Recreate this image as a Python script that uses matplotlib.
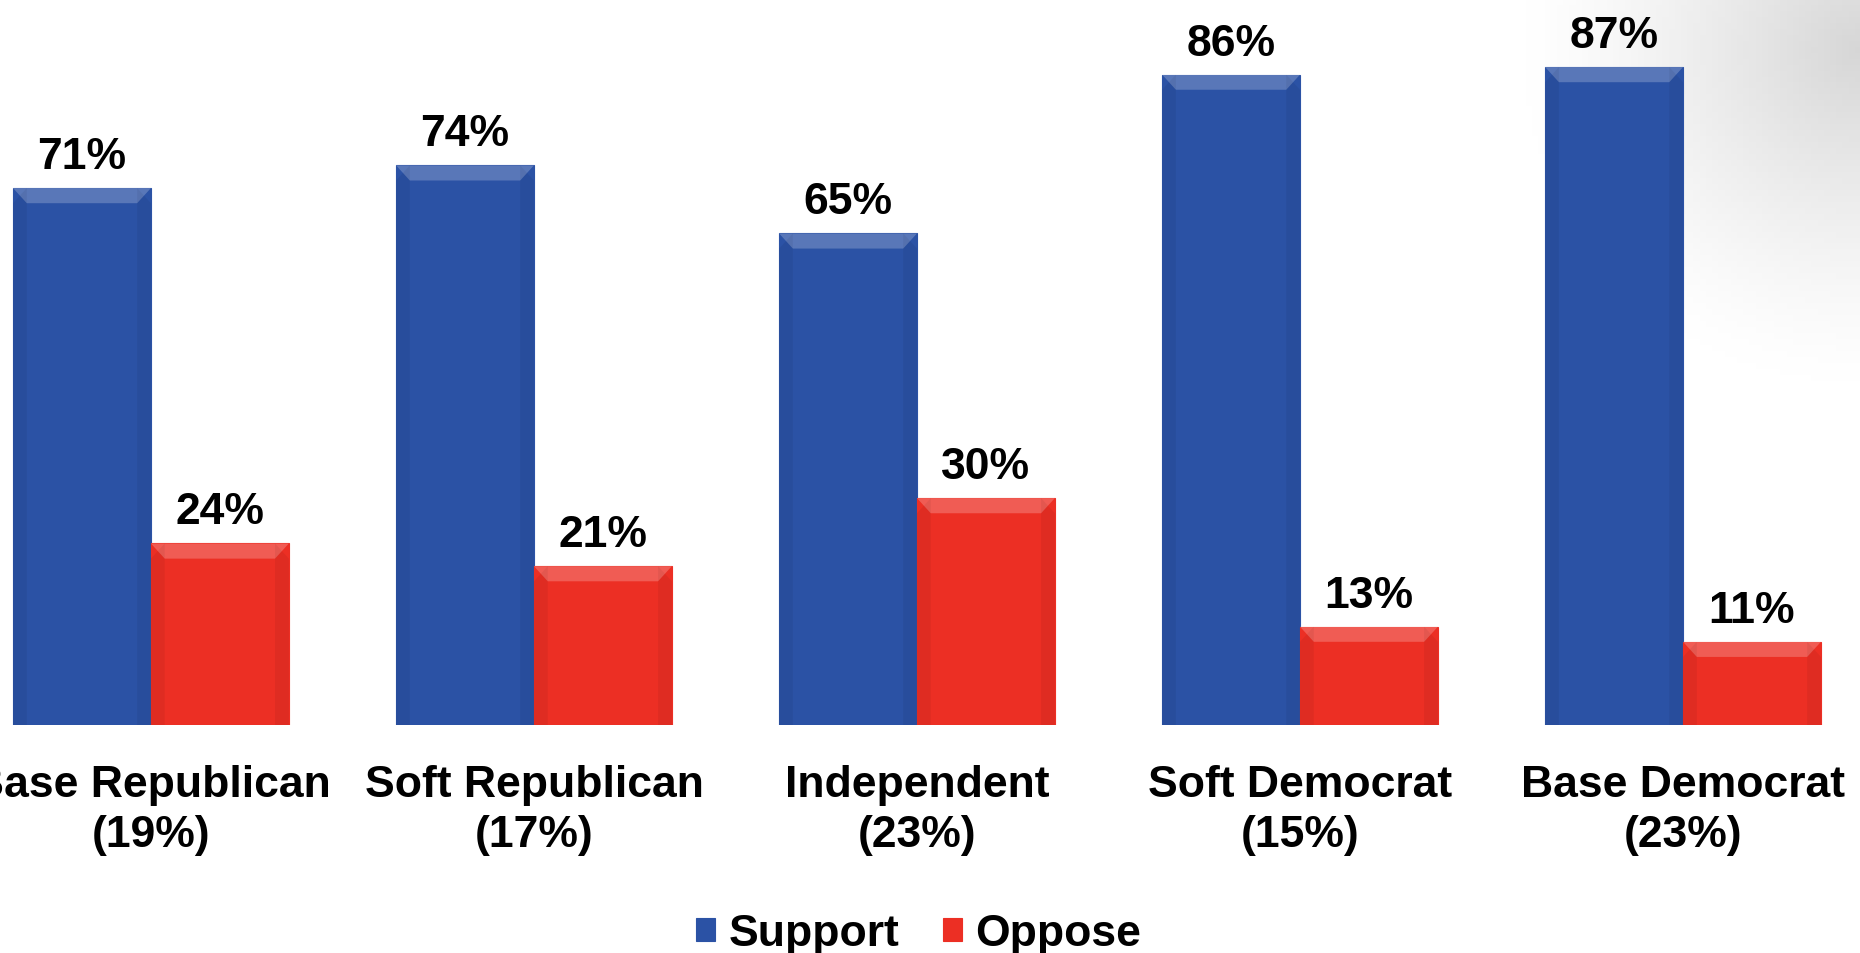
import numpy as np
import matplotlib
matplotlib.use('Agg')
import matplotlib.pyplot as plt
from matplotlib.patches import Polygon

# data
groups = ['Base Republican\n(19%)', 'Soft Republican\n(17%)', 'Independent\n(23%)',
          'Soft Democrat\n(15%)', 'Base Democrat\n(23%)']
support = [71, 74, 65, 86, 87]
oppose = [24, 21, 30, 13, 11]
series = ['Support', 'Oppose']
colors = ['#2b52a5', '#ec2f24']

plt.rcParams['font.family'] = ['Liberation Sans', 'DejaVu Sans']
plt.rcParams['font.weight'] = 'bold'

fig = plt.figure(figsize=(18.6, 9.54), dpi=100)

# soft grey shading in the top right corner
bg = fig.add_axes([0, 0, 1, 1], zorder=-10)
gx, gy = np.meshgrid(np.linspace(0, 1, 300), np.linspace(0, 1, 160))
d = np.sqrt(((gx - 1.0) / 0.18) ** 2 + ((gy - 0.95) / 0.35) ** 2)
shade = np.clip(1 - d, 0, 1) ** 1.3 * 0.16
img = np.ones((160, 300, 3)) * (1 - shade[..., None])
bg.imshow(img, origin='lower', extent=[0, 1, 0, 1], aspect='auto')
bg.axis('off')

ax = fig.add_axes([0, 0.239, 1, 0.761])
ax.patch.set_alpha(0)
x = np.arange(len(groups))
w = 0.36

bars = []
for k, (vals, c, name) in enumerate(zip([support, oppose], colors, series)):
    b = ax.bar(x + (k - 0.5) * w, vals, w, color=c, label=name,
               edgecolor=c, linewidth=0.8)
    bars.append(b)
    for rect, v in zip(b, vals):
        ax.annotate(f'{v}%', (rect.get_x() + rect.get_width() / 2, v),
                    xytext=(0, 8), textcoords='offset points',
                    ha='center', va='bottom', fontsize=32, fontweight='bold')

# bevel look on each bar
for b in bars:
    for rect in b:
        x0, y1 = rect.get_x(), rect.get_height()
        x1 = x0 + rect.get_width()
        bw = rect.get_width() * 0.1
        bh = 2.0
        top = Polygon([(x0, y1), (x1, y1), (x1 - bw, y1 - bh), (x0 + bw, y1 - bh)],
                      closed=True, color='white', alpha=0.22, lw=0)
        ax.add_patch(top)
        for sx0, sx1 in [(x0, x0 + bw), (x1 - bw, x1)]:
            side = Polygon([(sx0, y1 - (bh if sx0 == x0 else 0)),
                            (sx1, y1 - (0 if sx0 == x0 else bh)),
                            (sx1, 0), (sx0, 0)], closed=True,
                           color='black', alpha=0.05, lw=0)
            ax.add_patch(side)

ax.set_xlim(-0.394, 4.462)
ax.set_ylim(0, 96)
ax.set_xticks(x)
ax.set_xticklabels(groups, fontsize=32, fontweight='bold', linespacing=1.3)
ax.tick_params(axis='x', length=0, pad=28)
ax.set_yticks([])
for s in ax.spines.values():
    s.set_visible(False)

fig.legend(handles=[bars[0], bars[1]], labels=series, loc='center',
           bbox_to_anchor=(0.494, 0.02), ncol=2, frameon=False,
           prop={'size': 32, 'weight': 'bold'}, handlelength=0.42,
           handleheight=0.42, handletextpad=0.3, columnspacing=1.0)

fig.savefig('out.png', dpi=100)
